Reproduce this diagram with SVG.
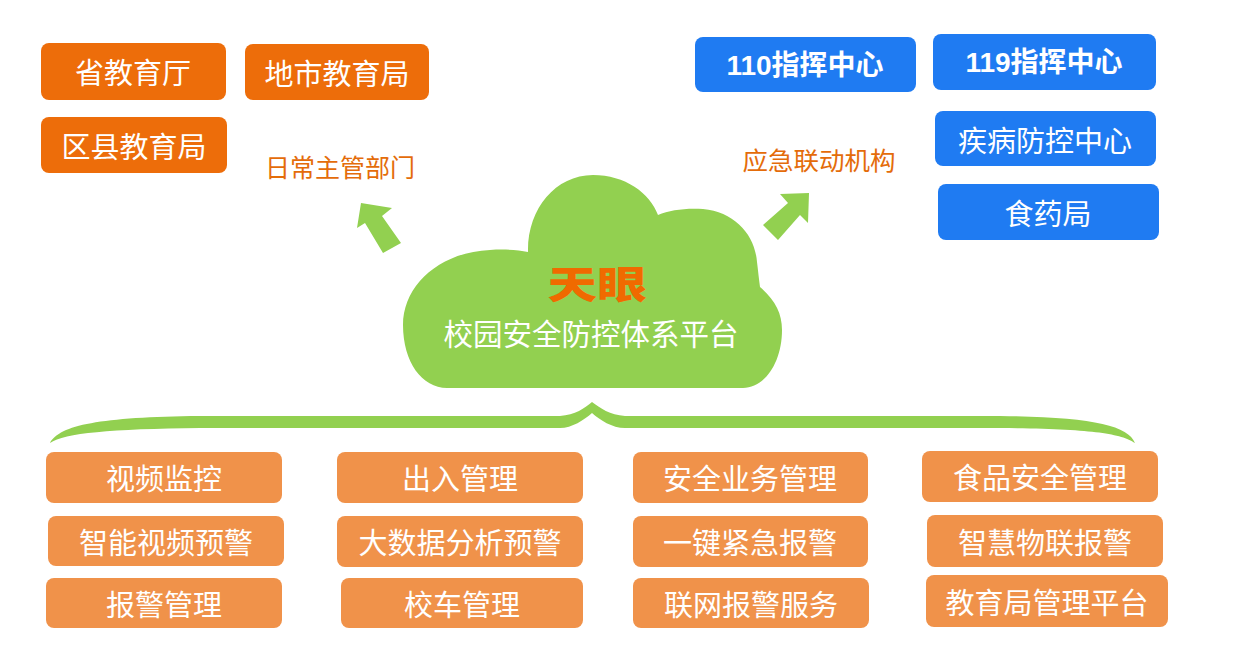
<svg xmlns="http://www.w3.org/2000/svg" width="1259" height="648" viewBox="0 0 1259 648">
<style>
.top{fill:#ED6D0A}
.blue{fill:#1F7BF2}
.sub{fill:#F0924A}
.t{font-family:"Noto Sans CJK SC","Noto Sans",sans-serif;fill:#fff;text-anchor:middle;dominant-baseline:central}
.b{font-family:"Liberation Sans","Noto Sans CJK SC",sans-serif;font-weight:bold}
.lbl{font-family:"Noto Sans CJK SC",sans-serif;fill:#E46C0A;text-anchor:middle;dominant-baseline:central}
.g{fill:#92D050}
</style>
<rect width="1259" height="648" fill="#fff"/>
<g id="connectors">
<polygon class="g" points="361,203 392,208 382,216 401,243 383,253 365,223 357,228"/>
<polygon class="g" points="809,193 808,223 800,215 778,240 763,225 788,203 780,194"/>
<path id="brace" class="g" d="M50 443 C60 425 100 417 200 416 L560 416 C575 415 585 408 592 402 C600 408 610 415 625 416 L1000 416 C1090 417 1128 425 1135 443 C1120 433 1090 429 1000 428 L625 428 C612 428 600 420 592 413 C584 420 572 428 560 428 L200 428 C110 429 65 433 50 443 Z"/>
</g>
<g id="cloud">
<path class="g" d="M447 388 C422 388 403 362 403 325 C403 285 440 252 490 250 C505 249 518 250 528 252 C527 210 555 175 593 175 C625 175 650 193 658 215 C670 210 685 208 703 209 C735 212 755 235 757 262 C758 270 759 280 760 287 C775 300 782 313 782 330 C782 362 765 388 743 388 Z"/>
<text x="597" y="281" font-family="'Noto Sans CJK SC',sans-serif" font-weight="900" font-size="38" fill="#F06A00" text-anchor="middle" dominant-baseline="central" textLength="99" lengthAdjust="spacingAndGlyphs">天眼</text>
<text class="t" x="591" y="332" font-size="29.5">校园安全防控体系平台</text>
</g>
<g id="label-daily"><text class="lbl" x="340" y="166" font-size="25">日常主管部门</text></g>
<g id="label-emergency"><text class="lbl" x="819" y="158" font-size="25.5">应急联动机构</text></g>
<g id="n-province"><rect class="top" x="41" y="43" width="185" height="57" rx="8"/><text class="t" x="133" y="71" font-size="29">省教育厅</text></g>
<g id="n-city"><rect class="top" x="245" y="44" width="184" height="56" rx="8"/><text class="t" x="337" y="72" font-size="29">地市教育局</text></g>
<g id="n-county"><rect class="top" x="41" y="117" width="186" height="56" rx="8"/><text class="t" x="134" y="145" font-size="29">区县教育局</text></g>
<g id="n-110"><rect class="blue" x="695" y="37" width="221" height="55" rx="8"/><text class="t b" x="805" y="65" font-size="28">110指挥中心</text></g>
<g id="n-119"><rect class="blue" x="933" y="34" width="223" height="56" rx="8"/><text class="t b" x="1044" y="62" font-size="28">119指挥中心</text></g>
<g id="n-cdc"><rect class="blue" x="935" y="111" width="221" height="55" rx="8"/><text class="t" x="1045" y="139" font-size="29">疾病防控中心</text></g>
<g id="n-food"><rect class="blue" x="938" y="184" width="221" height="56" rx="8"/><text class="t" x="1048" y="212" font-size="29">食药局</text></g>
<g id="s1"><rect class="sub" x="46" y="452" width="236" height="51" rx="8"/><text class="t" x="164" y="477" font-size="29">视频监控</text></g>
<g id="s2"><rect class="sub" x="48" y="516" width="236" height="50" rx="8"/><text class="t" x="166" y="541" font-size="29">智能视频预警</text></g>
<g id="s3"><rect class="sub" x="46" y="578" width="236" height="50" rx="8"/><text class="t" x="164" y="603" font-size="29">报警管理</text></g>
<g id="s4"><rect class="sub" x="337" y="452" width="246" height="51" rx="8"/><text class="t" x="460" y="477" font-size="29">出入管理</text></g>
<g id="s5"><rect class="sub" x="337" y="516" width="246" height="51" rx="8"/><text class="t" x="460" y="541" font-size="29">大数据分析预警</text></g>
<g id="s6"><rect class="sub" x="341" y="578" width="242" height="50" rx="8"/><text class="t" x="462" y="603" font-size="29">校车管理</text></g>
<g id="s7"><rect class="sub" x="633" y="452" width="235" height="51" rx="8"/><text class="t" x="750" y="477" font-size="29">安全业务管理</text></g>
<g id="s8"><rect class="sub" x="633" y="516" width="235" height="51" rx="8"/><text class="t" x="750" y="541" font-size="29">一键紧急报警</text></g>
<g id="s9"><rect class="sub" x="633" y="578" width="236" height="50" rx="8"/><text class="t" x="751" y="603" font-size="29">联网报警服务</text></g>
<g id="s10"><rect class="sub" x="922" y="451" width="236" height="51" rx="8"/><text class="t" x="1040" y="476" font-size="29">食品安全管理</text></g>
<g id="s11"><rect class="sub" x="927" y="515" width="236" height="52" rx="8"/><text class="t" x="1045" y="541" font-size="29">智慧物联报警</text></g>
<g id="s12"><rect class="sub" x="926" y="575" width="242" height="52" rx="8"/><text class="t" x="1047" y="601" font-size="29">教育局管理平台</text></g>
</svg>
